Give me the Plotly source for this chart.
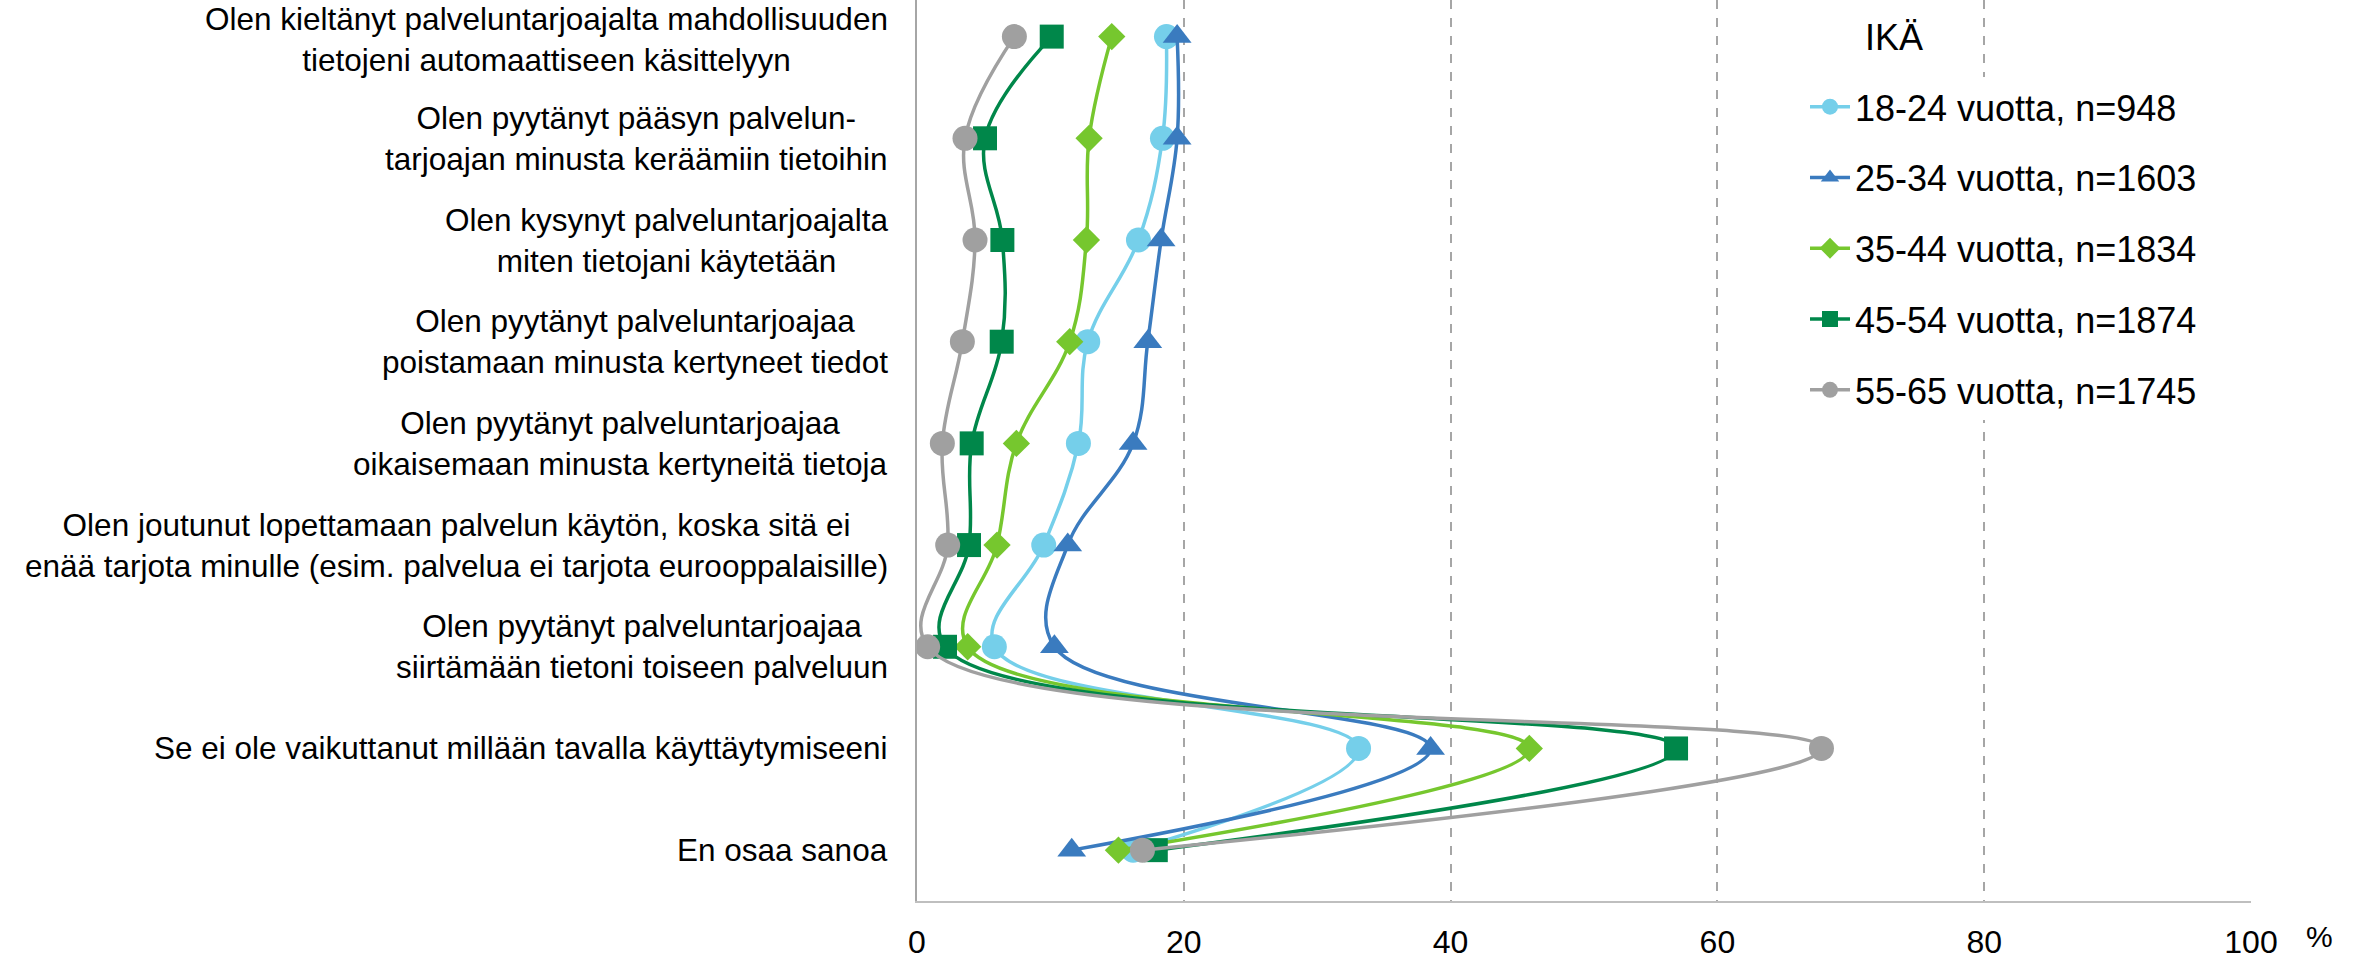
import plotly.graph_objects as go

categories = [
    "Olen kieltänyt palveluntarjoajalta mahdollisuuden<br>tietojeni automaattiseen käsittelyyn",
    "Olen pyytänyt pääsyn palvelun-<br>tarjoajan minusta keräämiin tietoihin",
    "Olen kysynyt palveluntarjoajalta<br>miten tietojani käytetään",
    "Olen pyytänyt palveluntarjoajaa<br>poistamaan minusta kertyneet tiedot",
    "Olen pyytänyt palveluntarjoajaa<br>oikaisemaan minusta kertyneitä tietoja",
    "Olen joutunut lopettamaan palvelun käytön, koska sitä ei<br>enää tarjota minulle (esim. palvelua ei tarjota eurooppalaisille)",
    "Olen pyytänyt palveluntarjoajaa<br>siirtämään tietoni toiseen palveluun",
    "Se ei ole vaikuttanut millään tavalla käyttäytymiseeni",
    "En osaa sanoa",
]

series_names = [
    "18-24 vuotta, n=948",
    "25-34 vuotta, n=1603",
    "35-44 vuotta, n=1834",
    "45-54 vuotta, n=1874",
    "55-65 vuotta, n=1745",
]

age_18_24 = [18.7, 18.4, 16.6, 12.8, 12.1, 9.5, 5.8, 33.1, 16.2]
age_25_34 = [19.5, 19.5, 18.3, 17.3, 16.2, 11.3, 10.3, 38.5, 11.6]
age_35_44 = [14.6, 12.9, 12.7, 11.45, 7.45, 6.0, 3.8, 45.9, 15.1]
age_45_54 = [10.1, 5.1, 6.4, 6.35, 4.1, 3.9, 2.1, 56.9, 17.9]
age_55_65 = [7.3, 3.6, 4.35, 3.4, 1.9, 2.3, 0.8, 67.8, 16.9]

x_ticks = [0, 20, 40, 60, 80, 100]

values = [age_18_24, age_25_34, age_35_44, age_45_54, age_55_65]
colors = ["#75CFEA", "#3A7BBF", "#76C72E", "#00874A", "#A0A0A0"]
symbols = ["circle", "triangle-up", "diamond", "square", "circle"]
sizes = [25, 25, 21, 24, 25]

FONT = "Liberation Sans, Arial, sans-serif"

fig = go.Figure()
for name, vals, col, sym, sz in zip(series_names, values, colors, symbols, sizes):
    fig.add_trace(go.Scatter(
        x=vals, y=categories, name=name, mode="lines+markers",
        line=dict(color=col, width=3.5, shape="spline", smoothing=1.1),
        marker=dict(color=col, symbol=sym, size=sz, line=dict(width=0)),
        cliponaxis=False, legendgroup=name,
    ))

W, H = 2361, 960
L, R, T, B = 917, 110, 0, 56

annotations = []
for i, c in enumerate(categories):
    annotations.append(dict(
        x=0, xref="paper", y=c, yref="y", text=c, showarrow=False,
        xanchor="right", yanchor="middle", align="center", xshift=-27,
        yshift=-3 if i == 0 else 0,
        font=dict(family=FONT, size=31.5, color="#000000"),
    ))
annotations.append(dict(
    x=(1863 - L) / (W - L - R), xref="paper", y=1 - 38 / (H - T - B), yref="paper",
    text="IKÄ", showarrow=False, xanchor="left", yanchor="middle",
    font=dict(family=FONT, size=36, color="#000000"),
))
annotations.append(dict(
    x=(2319 - L) / (W - L - R), xref="paper", y=-(940 - (H - B)) / (H - T - B), yref="paper",
    text="%", showarrow=False, xanchor="center", yanchor="middle",
    font=dict(family=FONT, size=30, color="#000000"),
))

fig.update_layout(
    width=W, height=H,
    margin=dict(l=L, r=R, t=T, b=B),
    paper_bgcolor="white", plot_bgcolor="white",
    font=dict(family=FONT, size=32, color="#000000"),
    showlegend=True,
    legend=dict(
        x=(1805 - L) / (W - L - R), xanchor="left",
        y=1 - 77 / (H - T - B), yanchor="top",
        bgcolor="white", borderwidth=0,
        font=dict(family=FONT, size=36, color="#000000"),
        traceorder="grouped", tracegroupgap=21,
        itemwidth=40,
    ),
    annotations=annotations,
    xaxis=dict(
        range=[0, 100], tickvals=x_ticks, ticktext=[str(t) for t in x_ticks],
        showgrid=True, gridcolor="#A6A6A6", griddash="dash", gridwidth=1.5,
        showline=True, linecolor="#BFBFBF", linewidth=2,
        ticks="outside", ticklen=12, tickcolor="rgba(0,0,0,0)",
        tickfont=dict(family=FONT, size=32, color="#000000"),
        zeroline=False,
    ),
    yaxis=dict(
        type="category", categoryorder="array", categoryarray=categories,
        range=[8.5, -0.36], showticklabels=False, showgrid=False,
        showline=True, linecolor="#A6A6A6", linewidth=2, zeroline=False,
        ticks="",
    ),
)

fig.write_html(
    "out.html",
    config={"displayModeBar": False},
    post_script="document.body.style.margin='0';document.body.style.overflow='hidden';",
)
